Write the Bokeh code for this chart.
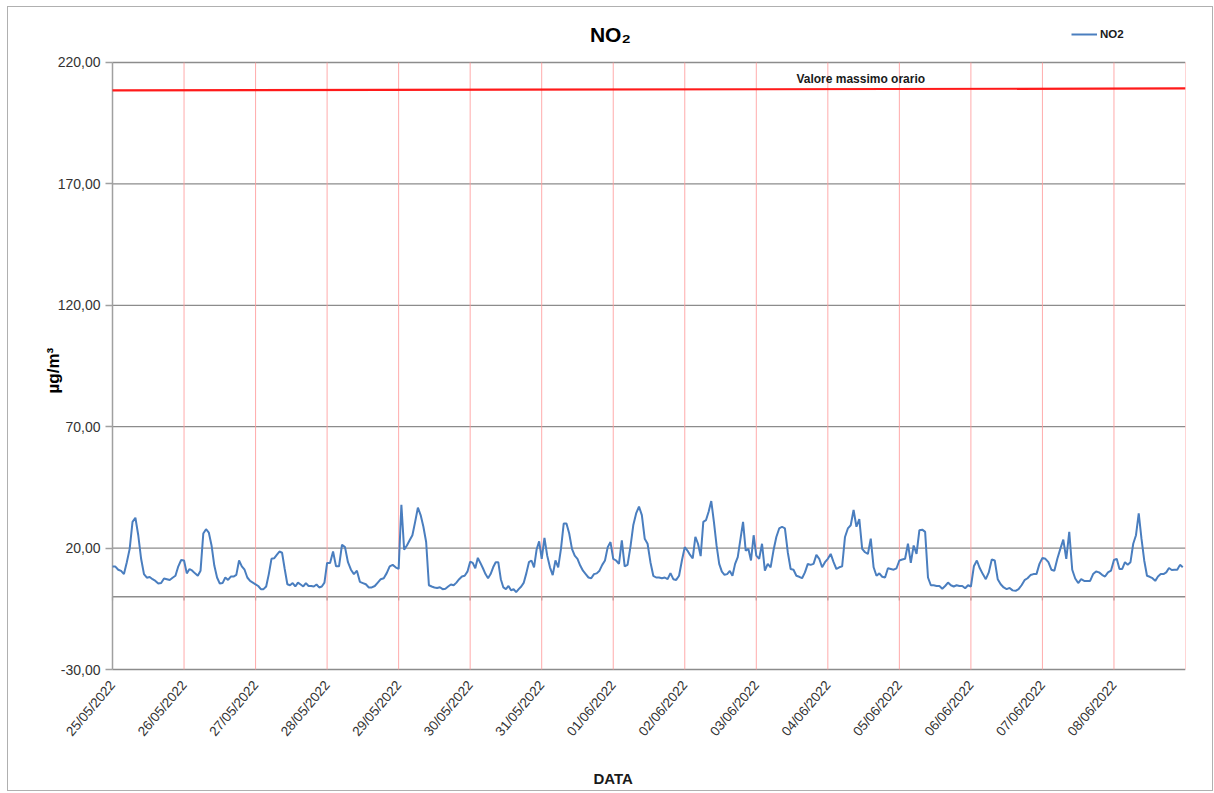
import math
from bokeh.plotting import figure
from bokeh.models import FixedTicker, Label, Legend, LegendItem
from bokeh.embed import file_html
from bokeh.resources import INLINE

# ---------------- data ----------------
date_labels = ["25/05/2022", "26/05/2022", "27/05/2022", "28/05/2022", "29/05/2022",
               "30/05/2022", "31/05/2022", "01/06/2022", "02/06/2022", "03/06/2022",
               "04/06/2022", "05/06/2022", "06/06/2022", "07/06/2022", "08/06/2022"]

d_2505 = [12.4, 12.4, 11.1, 10.6, 9.3, 14.2, 19.7, 30.8, 32.5, 25.3, 15.6, 9.3, 7.8, 8.1,
          7.2, 6.5, 5.4, 5.6, 7.5, 7.2, 6.9, 7.8, 8.6, 12.5, 15.1]
d_2605 = [14.9, 9.6, 11.4, 10.7, 9.6, 8.6, 10.7, 26.0, 27.8, 26.4, 21.1, 12.8, 7.9, 5.4,
          5.6, 7.9, 6.9, 8.3, 8.3, 9.0, 14.9, 12.5, 11.1, 7.9, 6.5, 5.8]
d_2705 = [5.1, 4.4, 3.1, 3.1, 4.2, 9.3, 15.6, 15.8, 17.2, 18.6, 18.1, 11.4, 5.1, 4.7, 5.6,
          4.2, 5.8, 5.0, 4.2, 5.6, 4.4, 4.4, 4.2, 5.0, 3.8, 4.2, 5.8]
d_2805 = [13.9, 13.9, 18.6, 12.5, 12.5, 21.4, 20.4, 14.2, 11.1, 9.3, 10.7, 6.1, 5.6, 5.1,
          3.8, 3.8, 4.4, 5.8, 7.2, 7.6, 9.7, 12.5, 13.1, 12.1]
d_2905 = [11.4, 37.8, 19.4, 21.1, 23.2, 25.3, 30.8, 36.7, 33.6, 28.8, 22.5, 4.7, 4.2, 3.8,
          3.6, 3.9, 3.1, 3.3, 4.2, 5.0, 4.7, 5.8, 7.2, 8.3, 8.6, 10.3]
d_3005 = [14.4, 13.9, 11.7, 16.0, 13.9, 11.7, 9.3, 7.6, 9.3, 12.1, 14.2, 14.2, 7.2, 3.8,
          3.1, 4.4, 2.6, 3.1, 1.9, 3.1, 4.2, 5.8, 9.7, 14.2, 14.9, 12.1, 19.4, 22.8]
d_3105 = [15.6, 24.2, 16.9, 12.1, 8.9, 14.9, 12.1, 19.7, 30.1, 30.1, 26.0, 19.7, 16.9, 15.6,
          12.8, 10.7, 9.3, 7.9, 7.6, 9.3, 9.6, 10.7, 13.1, 14.9, 20.4, 22.5]
d_0106 = [15.6, 14.9, 13.5, 23.2, 12.5, 13.1, 20.4, 29.4, 34.3, 37.1, 33.6, 23.9, 21.8, 14.2,
          8.6, 7.9, 7.9, 7.6, 7.9, 7.2, 9.7, 7.2, 6.9, 8.6, 14.9]
d_0206 = [20.4, 19.0, 17.2, 15.8, 24.6, 21.8, 16.7, 30.8, 31.5, 35.0, 39.4, 30.8, 21.1, 13.5,
          10.3, 9.0, 9.3, 10.6, 8.6, 13.5, 16.3, 23.6, 30.8, 19.0, 19.7, 14.9, 25.3]
d_0306 = [16.9, 15.6, 21.8, 10.7, 13.5, 12.1, 19.0, 24.6, 28.1, 28.8, 28.1, 18.3, 11.4, 11.1,
          8.6, 8.2, 7.6, 10.0, 13.5, 13.1, 13.5, 17.2, 15.6, 12.1, 14.2]
d_0406 = [15.6, 17.6, 14.2, 11.4, 12.1, 12.5, 24.6, 28.1, 29.4, 35.7, 28.8, 31.9, 19.7, 18.3,
          17.6, 23.9, 12.1, 8.6, 9.6, 8.2, 7.9, 11.7, 11.4, 11.1, 11.7]
d_0506 = [14.9, 15.3, 15.6, 21.8, 13.9, 21.1, 17.6, 27.4, 27.6, 26.7, 7.9, 4.7, 4.7, 4.4,
          4.4, 3.3, 4.4, 5.8, 4.7, 4.2, 4.7, 4.4, 4.4, 3.5, 4.7]
d_0606 = [4.2, 12.5, 14.9, 11.7, 9.3, 7.2, 10.0, 15.3, 14.9, 7.2, 5.1, 3.8, 3.1, 3.6, 2.6,
          2.4, 3.1, 4.7, 6.8, 7.6, 8.9, 9.3, 9.3, 13.5]
d_0706 = [16.0, 15.6, 14.2, 11.1, 10.7, 15.6, 19.7, 23.5, 15.6, 26.7, 11.1, 7.5, 5.6, 7.2,
          6.5, 6.5, 6.5, 9.3, 10.4, 10.0, 9.0, 8.3, 10.0, 10.7]
d_0806 = [15.1, 15.6, 11.4, 11.4, 14.2, 13.2, 14.2, 21.8, 25.3, 34.3, 23.9, 14.9, 8.6, 8.2,
          7.6, 6.5, 8.3, 9.3, 9.3, 10.0, 11.8, 11.0, 11.1, 11.1, 13.1, 12.1]

days = [d_2505, d_2605, d_2705, d_2805, d_2905, d_3005, d_3105, d_0106, d_0206, d_0306,
        d_0406, d_0506, d_0606, d_0706, d_0806]

limit_values = [208.5, 209.3]          # red "Valore massimo orario" line (start, end)
limit_text = "Valore massimo orario"
y_ticks = [-30, 20, 70, 120, 170, 220]
y_tick_labels = ["-30,00", "20,00", "70,00", "120,00", "170,00", "220,00"]

# ---------------- build series ----------------
xs, ys = [], []
for d, vals in enumerate(days):
    n = len(vals)
    for i, v in enumerate(vals):
        xs.append(d + i / n)
        ys.append(v)

n_days = len(date_labels)
day_edges = list(range(n_days + 1))
FONT = "Liberation Sans"
GRAY = "#8c8c8c"
AXIS_GRAY = "#a0a0a0"

# the frame covers the whole chart; both axes are pinned inside it
p = figure(width=1206, height=785, x_range=(-1.398, n_days), y_range=(-79, 241),
           output_backend="svg", toolbar_location=None,
           min_border_left=4, min_border_right=29, min_border_top=4, min_border_bottom=4)
p.margin = (6, 0, 0, 7)
p.outline_line_color = None
p.background_fill_color = "white"
p.border_fill_color = "white"
p.styles = {"border": "1px solid #b0b0b0", "box-sizing": "border-box"}
p.xgrid.visible = False
p.ygrid.visible = False

# x axis at the bottom of the value area
p.xaxis.fixed_location = y_ticks[0]
p.xaxis.ticker = FixedTicker(ticks=list(range(n_days)))
p.xaxis.major_label_overrides = {i: lab for i, lab in enumerate(date_labels)}
p.xaxis.major_label_orientation = 0.87
p.xaxis.major_label_text_font = FONT
p.xaxis.major_label_text_font_size = "13.5px"
p.xaxis.major_label_text_color = "#333333"
p.xaxis.major_tick_out = 0
p.xaxis.major_tick_in = 0
p.xaxis.minor_tick_line_color = None
p.xaxis.axis_line_color = None
p.xaxis.major_label_standoff = 13

# y axis at the first day
p.yaxis.fixed_location = 0
p.yaxis.ticker = FixedTicker(ticks=y_ticks)
p.yaxis.major_label_overrides = {t: lab for t, lab in zip(y_ticks, y_tick_labels)}
p.yaxis.major_label_text_font = FONT
p.yaxis.major_label_text_font_size = "14px"
p.yaxis.major_label_text_color = "#333333"
p.yaxis.axis_line_color = None
p.yaxis.major_tick_out = 7
p.yaxis.major_tick_in = 0
p.yaxis.major_tick_line_color = AXIS_GRAY
p.yaxis.major_tick_line_width = 1.5
p.yaxis.minor_tick_line_color = None
p.yaxis.major_label_standoff = 5

# horizontal grid lines, limited to the value area
p.segment(x0=[0] * len(y_ticks), y0=y_ticks, x1=[n_days] * len(y_ticks), y1=y_ticks,
          line_color=GRAY, line_width=1.3)
# zero line (category axis crossing) with its small tick marks
p.segment(x0=[0], y0=[0], x1=[n_days], y1=[0], line_color=GRAY, line_width=1.5)
tick_len = 1.6
p.segment(x0=day_edges[:-1], y0=[0] * n_days, x1=day_edges[:-1], y1=[-tick_len] * n_days,
          line_color=GRAY, line_width=1.2)
# red day lines and y-axis line
p.segment(x0=day_edges[1:], y0=[y_ticks[0]] * n_days, x1=day_edges[1:], y1=[y_ticks[-1]] * n_days,
          line_color="#ff9c9c", line_width=1, line_alpha=0.85)
p.segment(x0=[0], y0=[y_ticks[0]], x1=[0], y1=[y_ticks[-1]], line_color=AXIS_GRAY, line_width=1.5)

# limit line
p.line([0, n_days], limit_values, line_color="#ff1a1a", line_width=2.2)
p.add_layout(Label(x=10.46, y=limit_values[1] + 3.9, text=limit_text, text_align="center",
                   text_baseline="middle", text_font=FONT, text_font_size="12px",
                   text_font_style="bold", text_color="#1a1a1a"))

# series
r = p.line(xs, ys, line_color="#4a7ebf", line_width=2)

# titles
p.add_layout(Label(x=6.96, y=231.6, text="NO₂", text_align="center", text_baseline="middle",
                   text_font=FONT, text_font_size="21px", text_font_style="bold",
                   text_color="black"))
p.add_layout(Label(x=7.0, y=-74.9, text="DATA", text_align="center", text_baseline="middle",
                   text_font=FONT, text_font_size="15px", text_font_style="bold",
                   text_color="#1a1a1a"))
p.add_layout(Label(x=-0.825, y=93.1, text="µg/m³", angle=math.pi / 2, text_align="center",
                   text_baseline="middle", text_font=FONT, text_font_size="17px",
                   text_font_style="bold", text_color="black"))

legend = Legend(items=[LegendItem(label="NO2", renderers=[r])], location=(1059, 744),
                padding=0, margin=0, spacing=0, border_line_color=None, background_fill_alpha=0,
                glyph_width=26, glyph_height=20, label_standoff=3,
                label_text_font=FONT, label_text_font_size="11.5px",
                label_text_font_style="bold", label_text_color="#1a1a1a")
p.add_layout(legend, "center")

open("out.html", "w").write(file_html(p, INLINE))
